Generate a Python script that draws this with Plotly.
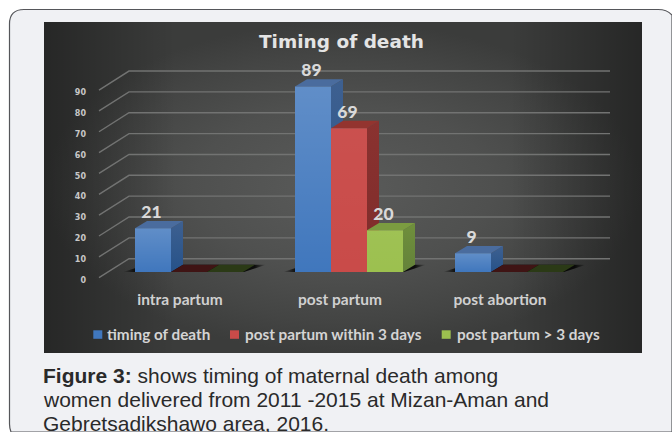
import plotly.graph_objects as go

# ---- data ----
categories = ["intra partum", "post partum", "post abortion"]
series_names = ["timing of death", "post partum within 3 days", "post partum > 3 days"]
timing_of_death = [21, 89, 9]
within_3_days = [0, 69, 0]
after_3_days = [0, 20, 0]
y_ticks = [0, 10, 20, 30, 40, 50, 60, 70, 80, 90]
title_text = "Timing of death"
caption_lines = ["<b>Figure 3:</b> shows timing of maternal death among",
                 "women delivered from 2011 -2015 at Mizan-Aman and",
                 "Gebretsadikshawo area, 2016."]

# ---- geometry of the picture (pixels) ----
W, H = 672, 432
X0_PX, GROUP_PX = 189.0, 160.0
Y0_PX, UNIT_PX = 272.0, 2.085
BAR_PX, DX_PX, DY_PX = 36.0, 12.0, 7.3
def xd(px): return (px - X0_PX) / GROUP_PX
def yd(py): return (Y0_PX - py) / UNIT_PX
xr = [xd(0), xd(W)]
yr = [yd(H), yd(0)]
bw = BAR_PX / GROUP_PX
dx = DX_PX / GROUP_PX
dy = DY_PX / UNIT_PX

values = [timing_of_death, within_3_days, after_3_days]
front = ["#4077bd", "#c94b49", "#9cc04f"]
sheen = [0.17, 0.03, 0.03]
side_top = ["#3e6090", "#8a3230", "#6f8f3c"]
side_bot = ["#265289", "#7e2c2a", "#64823a"]
top_col = ["#4a6c9e", "#93342f", "#7b9c40"]
floor_col = [None, "#3f1414", "#2b3a16"]
FONT = "Lato"

fig = go.Figure()

# panel: radial glow, darkened towards the left and right edges
panel_x = [xd(44), xd(642), xd(642), xd(44), xd(44)]
panel_y = [yd(22), yd(22), yd(353), yd(353), yd(22)]
fig.add_trace(go.Scatter(
    x=panel_x, y=panel_y, mode="none", fill="toself", showlegend=False, hoverinfo="skip",
    fillgradient=dict(type="radial",
                      colorscale=[[0, "#5a5b5a"], [0.5, "#4f504f"], [0.8, "#444544"], [1, "#3b3c3b"]])))
fig.add_trace(go.Scatter(
    x=panel_x, y=panel_y, mode="none", fill="toself", showlegend=False, hoverinfo="skip",
    fillgradient=dict(type="horizontal",
                      colorscale=[[0, "rgba(0,0,0,0.35)"], [0.22, "rgba(0,0,0,0)"],
                                  [0.78, "rgba(0,0,0,0)"], [1, "rgba(0,0,0,0.35)"]])))

# gridlines: front edge to back wall, then along it
gx, gy = [], []
front_off = (Y0_PX - 277.7) / UNIT_PX
back_off = (Y0_PX - 258.7) / UNIT_PX
for t in y_ticks:
    gx += [xd(99), xd(129), xd(610), None]
    gy += [t + front_off, t + back_off, t + back_off, None]
fig.add_trace(go.Scatter(x=gx, y=gy, mode="lines", showlegend=False, hoverinfo="skip",
                         line=dict(color="#727372", width=1.4)))

# floor shadows
for i in range(len(categories)):
    l = i - 1.5 * bw
    r = i + 1.5 * bw
    fig.add_trace(go.Scatter(
        x=[l - 12 / GROUP_PX, l - 1 / GROUP_PX + dx, r + dx + 11 / GROUP_PX, r + 1 / GROUP_PX, l - 12 / GROUP_PX],
        y=[0, dy, dy, 0, 0], mode="none", fill="toself", showlegend=False, hoverinfo="skip",
        fillgradient=dict(type="horizontal",
                          colorscale=[[0, "rgba(0,0,0,0)"], [0.09, "rgba(0,0,0,0.85)"],
                                      [0.92, "rgba(0,0,0,0.85)"], [1, "rgba(0,0,0,0)"]])))

# side and top faces, back to front by series
for j, vals in enumerate(values):
    for i, v in enumerate(vals):
        l = i + (j - 1.5) * bw
        r = l + bw
        if v > 0:
            fig.add_trace(go.Scatter(
                x=[r, r + dx, r + dx, r, r], y=[0, dy, v + dy, v, 0],
                mode="none", fill="toself", showlegend=False, hoverinfo="skip",
                fillgradient=dict(type="vertical",
                                  colorscale=[[0, side_bot[j]], [1, side_top[j]]])))
            c = top_col[j]
        else:
            c = floor_col[j]
        fig.add_trace(go.Scatter(
            x=[l, l + dx, r + dx, r, l], y=[v, v + dy, v + dy, v, v],
            mode="none", fill="toself", fillcolor=c, showlegend=False, hoverinfo="skip"))

# front faces, on the overlaying axes
for j, vals in enumerate(values):
    fig.add_trace(go.Bar(x=list(range(len(categories))), y=vals, name=series_names[j],
                         marker=dict(color=front[j], line=dict(width=0)),
                         xaxis="x2", yaxis="y2", showlegend=False))

# sheen on the front faces
for j, vals in enumerate(values):
    for i, v in enumerate(vals):
        if v > 0:
            l = i + (j - 1.5) * bw
            fig.add_trace(go.Scatter(
                x=[l, l + bw, l + bw, l, l], y=[0, 0, v, v, 0], xaxis="x2", yaxis="y2",
                mode="none", fill="toself", showlegend=False, hoverinfo="skip",
                fillgradient=dict(type="vertical",
                                  colorscale=[[0, "rgba(255,255,255,0)"], [1, f"rgba(255,255,255,{sheen[j]})"]])))

# value labels
lx, ly, lt = [], [], []
for j, vals in enumerate(values):
    for i, v in enumerate(vals):
        if v > 0:
            lx.append(i + (j - 1) * bw - 1.5 / GROUP_PX)
            ly.append(v + 14.5 / UNIT_PX)
            lt.append(str(v))
fig.add_trace(go.Scatter(x=lx, y=ly, text=lt, mode="text", textposition="middle center",
                         xaxis="x2", yaxis="y2", showlegend=False, hoverinfo="skip",
                         textfont=dict(family=FONT, size=17.5, color="#d9d9d9", weight=900)))

def pp(x, y): return f"{x / W:.5f} {1 - y / H:.5f}"
shapes = [
    dict(type="path", layer="below", xref="paper", yref="paper",
         path=f"M {pp(11, 432)} Q {pp(9.5, 428)} {pp(9.5, 424)} L {pp(9.5, 24)} Q {pp(9.5, 9.5)} {pp(24, 9.5)} "
              f"L {pp(658, 9.5)} Q {pp(667, 9.5)} {pp(672, 15)} L {pp(672, 432)} Z",
         fillcolor="#f0f1f4", line=dict(color="#55565a", width=1.2)),
]
LEG_Y = 334.3
for x0, c in zip([93.3, 230, 441.7], front):
    shapes.append(dict(type="rect", xref="paper", yref="paper",
                       x0=x0 / W, x1=(x0 + 9) / W, y0=1 - (LEG_Y + 4.5) / H, y1=1 - (LEG_Y - 4) / H,
                       fillcolor=c, line=dict(width=0)))

anns = [dict(text=title_text, xref="paper", yref="paper", x=341.5 / W, y=1 - 42 / H, showarrow=False,
             xanchor="center", yanchor="middle",
             font=dict(family="DejaVu Sans", size=18.5, color="#e4e4e4", weight=700))]
for x0, name in zip([106, 243.6, 455.7], series_names):
    anns.append(dict(text=name, xref="paper", yref="paper", x=x0 / W, y=1 - LEG_Y / H, showarrow=False,
                     xanchor="left", xshift=-1, yanchor="middle",
                     font=dict(family=FONT, size=15.3, color="#d4d4d4", weight=700)))
for k, line in enumerate(caption_lines):
    anns.append(dict(text=line, xref="paper", yref="paper", x=42 / W, y=1 - (375 + 24 * k) / H,
                     showarrow=False, xanchor="left", xshift=-1, yanchor="middle",
                     font=dict(family="Liberation Sans", size=21, color="#2a2a2a")))

fig.update_layout(
    width=W, height=H, margin=dict(l=0, r=0, t=0, b=0), autosize=False,
    paper_bgcolor="#ffffff", plot_bgcolor="rgba(0,0,0,0)",
    barmode="group", bargap=1 - 3 * bw, bargroupgap=0, showlegend=False,
    shapes=shapes, annotations=anns,
    xaxis=dict(range=xr, domain=[0, 1], anchor="free", position=1 - 288.5 / H, showgrid=False, zeroline=False,
               showline=False, ticks="", tickmode="array", tickvals=list(range(len(categories))),
               ticktext=categories, ticklabelshift=-9,
               tickfont=dict(family=FONT, size=15.5, color="#d0d0d0", weight=700)),
    yaxis=dict(range=yr, domain=[0, 1], anchor="free", position=86 / W, showgrid=False, zeroline=False,
               showline=False, ticks="", tickmode="array", tickvals=y_ticks,
               ticklabelshift=8,
               tickfont=dict(family="DejaVu Sans", size=8, color="#c8c8c8", weight=700)),
    xaxis2=dict(range=xr, overlaying="x", visible=False),
    yaxis2=dict(range=yr, overlaying="y", visible=False),
)
fig.write_html("out.html", config=dict(displayModeBar=False),
               post_script="document.body.style.margin='0';document.documentElement.style.overflow='hidden';")
